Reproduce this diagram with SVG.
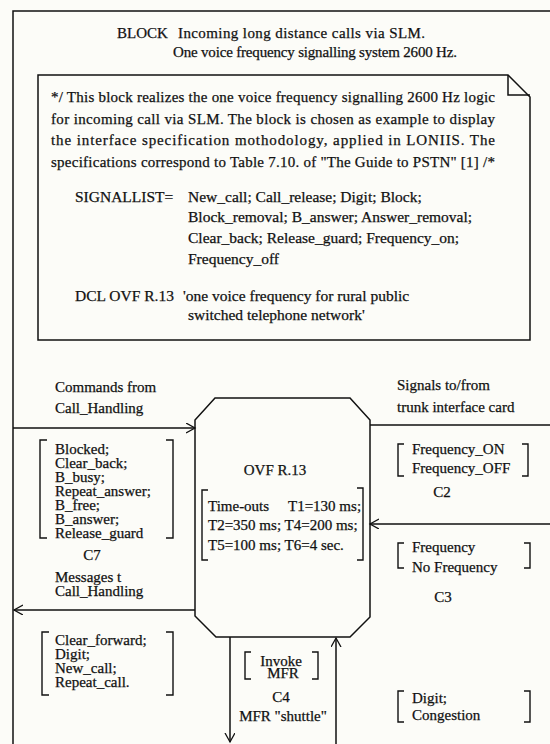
<svg xmlns="http://www.w3.org/2000/svg" width="550" height="744" viewBox="0 0 550 744">
<style>
text{font-family:"Liberation Serif","Times New Roman",serif;font-size:15px;fill:#111;stroke:#111;stroke-width:0.25}
.big{font-size:15.5px}
.ln{fill:none;stroke:#111;stroke-width:1.5}
.br{fill:none;stroke:#111;stroke-width:1.4}
.mid{text-anchor:middle}
</style>
<defs>
<marker id="ah" markerUnits="userSpaceOnUse" markerWidth="12" markerHeight="12" refX="9" refY="5" orient="auto">
<path d="M0,0 L9,5 L0,10" fill="none" stroke="#111" stroke-width="1.3"/>
</marker>
</defs>
<rect width="550" height="744" fill="#fcfcf8"/>
<g id="frame">
<path class="ln" d="M13,744 V11 H550"/>
<text x="117" y="38">BLOCK</text>
<text x="178" y="38" textLength="247" lengthAdjust="spacing">Incoming long distance calls via SLM.</text>
<text x="173" y="57" textLength="284" lengthAdjust="spacing">One voice frequency signalling system 2600 Hz.</text>
</g>
<g id="comment">
<path class="ln" d="M38,75 H508 L530,97 V340 H38 Z"/>
<path class="ln" d="M508,75 V95 H530"/>
<text x="51" y="102" textLength="444" lengthAdjust="spacing">*/ This block realizes the one voice frequency signalling 2600 Hz logic</text>
<text x="51" y="124" textLength="444" lengthAdjust="spacing">for incoming call via SLM. The block is chosen as example to display</text>
<text x="51" y="145" textLength="444" lengthAdjust="spacing">the interface specification mothodology, applied in LONIIS. The</text>
<text x="51" y="167" textLength="444" lengthAdjust="spacing">specifications correspond to Table 7.10. of "The Guide to PSTN" [1] /*</text>
<text class="big" x="75" y="202">SIGNALLIST=</text>
<text class="big" x="188" y="202">New_call; Call_release; Digit; Block;</text>
<text class="big" x="188" y="222">Block_removal; B_answer; Answer_removal;</text>
<text class="big" x="188" y="243">Clear_back; Release_guard; Frequency_on;</text>
<text class="big" x="188" y="264">Frequency_off</text>
<text class="big" x="75" y="301">DCL OVF R.13</text>
<text class="big" x="183" y="301">'one voice frequency for rural public</text>
<text class="big" x="188" y="320">switched telephone network'</text>
</g>
<g id="ovf">
<path class="ln" d="M215,398 H350 L370,420 V617 L350,637 H216 L195,616 V420 Z"/>
<text class="mid" x="275" y="475">OVF R.13</text>
<path class="br" d="M208,490 H202 V560 H208"/>
<path class="br" d="M357,488 H363 V560 H357"/>
<text x="208" y="511">Time-outs</text>
<text x="288" y="511">T1=130 ms;</text>
<text x="208" y="530">T2=350 ms; T4=200 ms;</text>
<text x="208" y="550">T5=100 ms; T6=4 sec.</text>
</g>
<g id="commands">
<text x="55" y="392">Commands from</text>
<text x="55" y="413">Call_Handling</text>
</g>
<g id="c7">
<path class="br" d="M47,440 H40 V538 H47"/>
<path class="br" d="M166,440 H173 V538 H166"/>
<text x="55" y="454">Blocked;</text>
<text x="55" y="468">Clear_back;</text>
<text x="55" y="482">B_busy;</text>
<text x="55" y="496">Repeat_answer;</text>
<text x="55" y="510">B_free;</text>
<text x="55" y="524">B_answer;</text>
<text x="55" y="538">Release_guard</text>
<text class="mid" x="92" y="560">C7</text>
<text x="55" y="582">Messages t</text>
<text x="55" y="596">Call_Handling</text>
</g>
<g id="cmdlist">
<path class="br" d="M49,632 H42 V695 H49"/>
<path class="br" d="M166,632 H173 V695 H166"/>
<text x="55" y="645">Clear_forward;</text>
<text x="55" y="659">Digit;</text>
<text x="55" y="673">New_call;</text>
<text x="55" y="687">Repeat_call.</text>
</g>
<g id="signals">
<text x="397" y="390">Signals to/from</text>
<text x="397" y="412">trunk interface card</text>
</g>
<g id="c2">
<path class="br" d="M404,444 H398 V476 H404"/>
<path class="br" d="M522,444 H528 V476 H522"/>
<text x="412" y="454">Frequency_ON</text>
<text x="412" y="473">Frequency_OFF</text>
<text class="mid" x="442" y="497">C2</text>
</g>
<g id="c3">
<path class="br" d="M404,543 H398 V568 H404"/>
<path class="br" d="M524,543 H530 V568 H524"/>
<text x="412" y="552">Frequency</text>
<text x="412" y="572">No Frequency</text>
<text class="mid" x="443" y="602">C3</text>
</g>
<g id="c4">
<path class="br" d="M251,652 H245 V679 H251"/>
<path class="br" d="M312,652 H318 V679 H312"/>
<text class="mid" x="281" y="666">Invoke</text>
<text class="mid" x="283" y="678">MFR</text>
<text class="mid" x="281" y="702">C4</text>
<text class="mid" x="283" y="721">MFR "shuttle"</text>
</g>
<g id="digit">
<path class="br" d="M404,691 H398 V722 H404"/>
<path class="br" d="M524,691 H530 V722 H524"/>
<text x="412" y="703">Digit;</text>
<text x="412" y="720">Congestion</text>
</g>
<g id="connectors">
<line class="ln" x1="13" y1="428" x2="195" y2="428" marker-end="url(#ah)"/>
<line class="ln" x1="195" y1="610" x2="14" y2="610" marker-end="url(#ah)"/>
<line class="ln" x1="370" y1="425" x2="550" y2="425"/>
<line class="ln" x1="550" y1="524" x2="370" y2="524" marker-end="url(#ah)"/>
<line class="ln" x1="230" y1="637" x2="230" y2="742" marker-end="url(#ah)"/>
<line class="ln" x1="336" y1="744" x2="336" y2="638" marker-end="url(#ah)"/>
</g>
</svg>
